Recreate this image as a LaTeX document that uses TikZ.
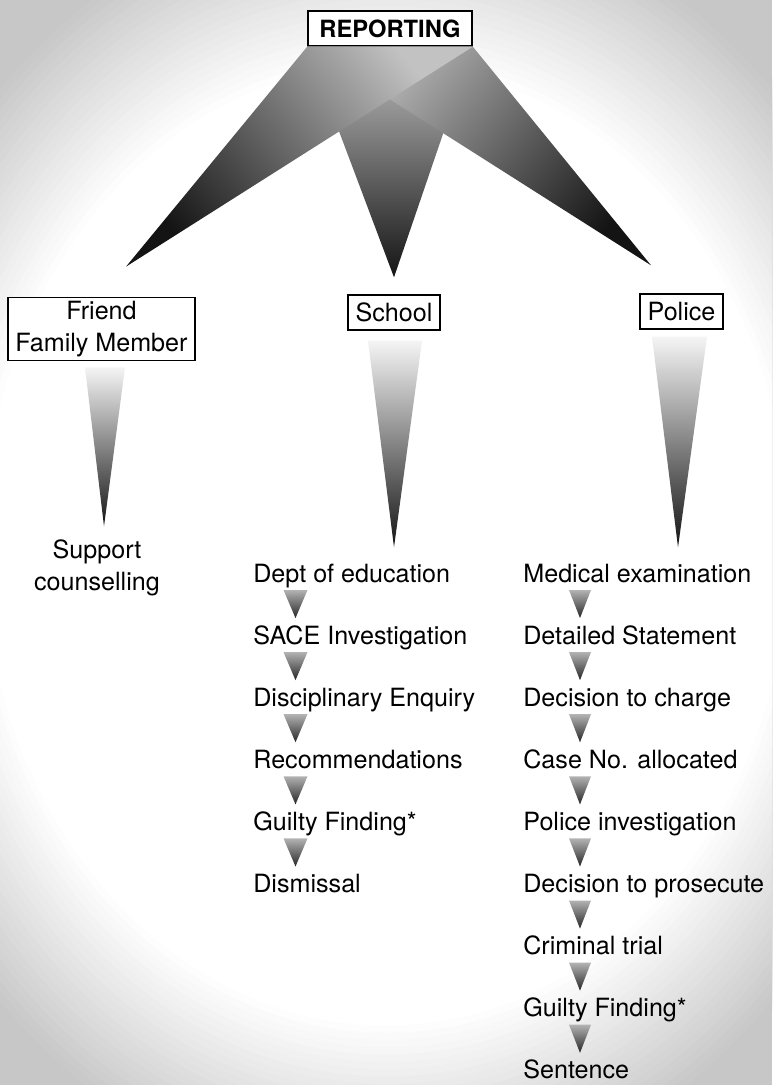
\documentclass[tikz,border=0pt]{standalone}
\usepackage{fontspec}
\setmainfont{TeX Gyre Heros}
\usetikzlibrary{calc}

\begin{document}
\begin{tikzpicture}[
  x=0.02cm,y=-0.02cm,
  font=\fontsize{14.3}{18.5}\selectfont,
  box/.style={draw, line width=0.8pt, fill=white, align=center, inner xsep=1.5mm, inner ysep=2pt, minimum height=0.7cm},
  item/.style={anchor=base west, inner sep=0pt},
  fanshade/.style={top color=black!24, bottom color=black!92},
  stemshade/.style={top color=black!4, bottom color=black!92},
  linkshade/.style={top color=black!30, bottom color=black!85}
]
% Page and glow.
\useasboundingbox (0,0) rectangle (772,1085);
\begin{scope}
  \clip (0,0) rectangle (772,1085);
  \fill[black!22] (0,0) rectangle (772,1085);
  \foreach \k in {0,...,24}
    \fill[black!\fpeval{22-22*\k/24}] (386,545) ellipse [x radius={470*(1.17-0.013*\k)}, y radius={560*(1.17-0.013*\k)}];
\end{scope}

% Heads.
\node[box, font=\fontsize{13.5}{16}\selectfont\bfseries, inner xsep=2.3mm] (rep) at (390,28.5) {REPORTING};
\node[box] (friend) at (101.5,329) {Friend\\Family Member};
\node[box] (school) at (394,312.5) {School};
\node[box] (police) at (681.5,311.5) {Police};

% Outcomes.
\node[align=center, inner sep=0pt] (support) at (97,568) {Support\\counselling};
\foreach \t [count=\i] in {Dept of education, SACE Investigation, Disciplinary Enquiry, Recommendations, Guilty Finding*, Dismissal}
  \node[item] (s\i) at (253,{582+62.1*(\i-1)}) {\t};
\foreach \t [count=\i] in {Medical examination, Detailed Statement, Decision to charge, Case No. allocated, Police investigation, Decision to prosecute, Criminal trial, Guilty Finding*, Sentence}
  \node[item] (p\i) at (523,{582+62.1*(\i-1)}) {\t};

% Fan out of the report.
\coordinate (lefttip) at ($(friend.north)+(24.5,-30)$);
\coordinate (midtip) at ($(school.north)+(0,-17)$);
\coordinate (righttip) at ($(police.north)+(-30.5,-28)$);
\shade[fanshade] (rep.south west) -- (rep.south east) -- (midtip) -- cycle;
\shade[fanshade, shading angle=50] (rep.south west) -- (rep.south east) -- (righttip) -- cycle;
\shade[fanshade, shading angle=-50] (rep.south west) -- (rep.south east) -- (lefttip) -- cycle;

% Stems down to the first step.
\coordinate (friendtip) at ($(friend.south |- support.north)+(2.5,-13)$);
\coordinate (schooltip) at ($(school.south |- s1.north)+(0,-16)$);
\coordinate (policetip) at ($(police.south |- p1.north)+(-3.5,-16)$);
\shade[stemshade] ($(friend.south)+(-16.5,6)$) -- ($(friend.south)+(23.5,6)$) -- (friendtip) -- cycle;
\shade[stemshade] ($(school.south)+(-26,10)$) -- ($(school.south)+(28,10)$) -- (schooltip) -- cycle;
\shade[stemshade] ($(police.south)+(-29.5,7)$) -- ($(police.south)+(25.5,7)$) -- (policetip) -- cycle;

% Small links between steps.
\foreach \i/\j in {1/2,2/3,3/4,4/5,5/6}
  \shade[linkshade] ($(s\i.base west)+(30.5,8)$) -- ($(s\i.base west)+(54.5,8)$) -- ($(s\j.base west)+(42.5,-26)$) -- cycle;
\foreach \i/\j in {1/2,2/3,3/4,4/5,5/6,6/7,7/8,8/9}
  \shade[linkshade] ($(p\i.base west)+(46,8)$) -- ($(p\i.base west)+(68,8)$) -- ($(p\j.base west)+(57,-26)$) -- cycle;
\end{tikzpicture}
\end{document}
